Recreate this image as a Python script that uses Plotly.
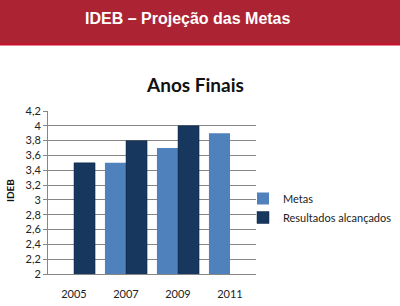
import plotly.graph_objects as go

years = ["2005", "2007", "2009", "2011"]
metas = [None, 3.5, 3.7, 3.9]
resultados = [3.5, 3.8, 4.0, None]
ytick_vals = [2.0, 2.2, 2.4, 2.6, 2.8, 3.0, 3.2, 3.4, 3.6, 3.8, 4.0, 4.2]
ytick_text = ["2", "2,2", "2,4", "2,6", "2,8", "3", "3,2", "3,4", "3,6", "3,8", "4", "4,2"]

W, H = 400, 306
L, R, T, B = 48, 256, 111, 274  # plot area pixels
pw, ph = R - L, B - T

def px(x):
    return (x - L) / pw

def py(y):
    return (B - y) / ph

font_c = "Lato, Carlito, Calibri, sans-serif"

fig = go.Figure()
fig.add_trace(go.Bar(x=years, y=metas, name="Metas", marker=dict(color="#4F81BD", line=dict(width=0))))
fig.add_trace(go.Bar(x=years, y=resultados, name="Resultados alcançados",
                     marker=dict(color="#17375E", line=dict(color="#0F2440", width=0.5))))

fig.update_layout(
    width=W, height=H,
    margin=dict(l=L, r=W - R, t=T, b=H - B, autoexpand=False),
    paper_bgcolor="white", plot_bgcolor="white",
    barmode="group", bargap=0.19, bargroupgap=0,
    showlegend=True,
    legend=dict(x=px(243), y=py(184), xanchor="left", yanchor="top",
                font=dict(family=font_c, size=11, color="#222"),
                itemwidth=30, tracegroupgap=0, bgcolor="rgba(0,0,0,0)"),
    font=dict(family=font_c, size=11, color="#222"),
    shapes=[
        dict(type="rect", xref="paper", yref="paper", x0=px(0), x1=px(400), y0=py(44), y1=py(0),
             fillcolor="#AC2333", line=dict(width=0), layer="below"),
        dict(type="rect", xref="paper", yref="paper", x0=px(0), x1=px(400), y0=py(45.5), y1=py(43.5),
             fillcolor="#C8102E", line=dict(width=0), layer="below"),
    ],
    annotations=[
        dict(text="<b>IDEB – Projeção das Metas</b>", xref="paper", yref="paper",
             x=px(188), y=py(18), xanchor="center", yanchor="middle", showarrow=False,
             font=dict(family="Liberation Sans, Arial, sans-serif", size=16, color="white")),
        dict(text="<b>Anos Finais</b>", xref="paper", yref="paper",
             x=px(195), y=py(84), xanchor="center", yanchor="middle", showarrow=False,
             font=dict(family=font_c, size=19, color="#111")),
        dict(text="<b>IDEB</b>", xref="paper", yref="paper",
             x=px(10), y=py(191), xanchor="center", yanchor="middle", showarrow=False,
             textangle=-90, font=dict(family=font_c, size=10, color="#111")),
    ],
)

fig.update_xaxes(showline=True, linecolor="#868686", linewidth=1, ticks="",
                 ticklabelstandoff=10, tickfont=dict(size=11), showgrid=False)
fig.update_yaxes(range=[2, 4.2], tickvals=ytick_vals, ticktext=ytick_text,
                 showgrid=True, gridcolor="#868686", gridwidth=1,
                 showline=True, linecolor="#868686", linewidth=1,
                 ticks="outside", ticklen=4, tickcolor="#868686",
                 tickfont=dict(size=11), zeroline=False)

fig.write_html("out.html")
